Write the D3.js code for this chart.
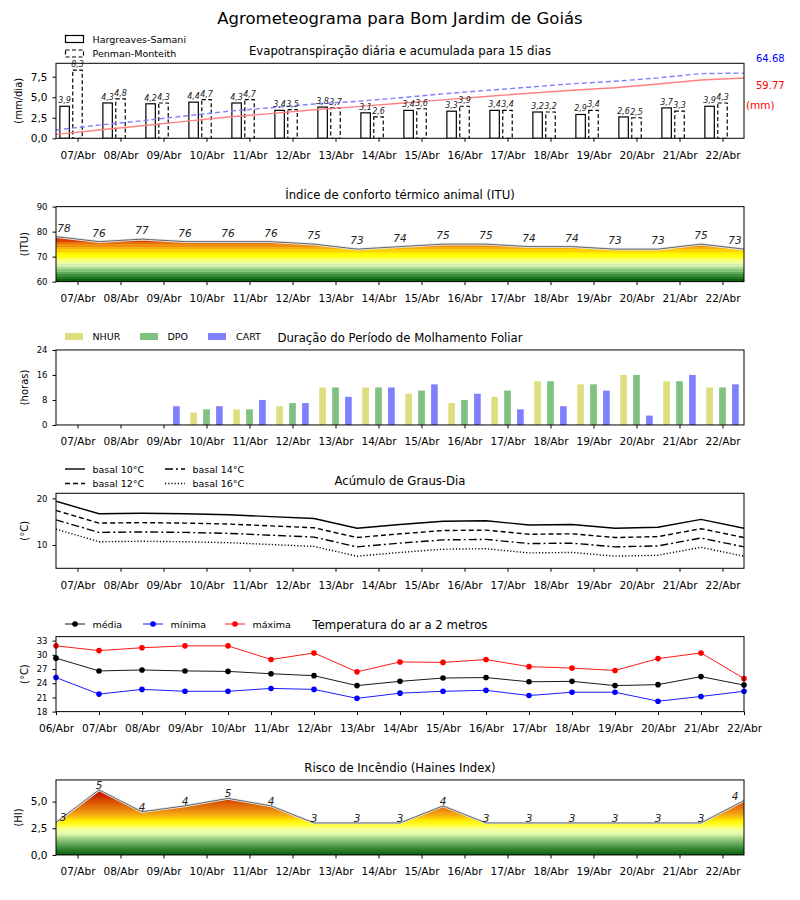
<!DOCTYPE html>
<html>
<head>
<meta charset="utf-8">
<script src="https://cdn.jsdelivr.net/npm/d3@7/dist/d3.min.js"></script>
<style>
  body { margin: 0; background: #fff; }
  svg { font-family: "DejaVu Sans", sans-serif; }
  .tick text { fill: #000; }
  .tick line { stroke: #000; }
  .val { font-style: italic; font-size: 8px; fill: #222; }
  .lbl { font-style: italic; font-size: 10.5px; fill: #222; }
</style>
</head>
<body>
<svg id="chart" width="800" height="900"></svg>
<script>
// ---- data ----
const days = ['07/Abr','08/Abr','09/Abr','10/Abr','11/Abr','12/Abr','13/Abr','14/Abr',
  '15/Abr','16/Abr','17/Abr','18/Abr','19/Abr','20/Abr','21/Abr','22/Abr']
const tempDays = ['06/Abr','07/Abr','08/Abr','09/Abr','10/Abr','11/Abr','12/Abr','13/Abr','14/Abr',
  '15/Abr','16/Abr','17/Abr','18/Abr','19/Abr','20/Abr','21/Abr','22/Abr']

// evapotranspiração diária (mm/dia)
const etHS = [3.9,4.3,4.2,4.4,4.3,3.4,3.8,3.1,3.4,3.3,3.4,3.2,2.9,2.6,3.7,3.9]
const etPM = [8.3,4.8,4.3,4.7,4.7,3.5,3.7,2.6,3.6,3.9,3.4,3.2,3.4,2.5,3.3,4.3]
// acumulada (mm)
const accHS = [3.9,8.2,12.4,16.8,21.1,24.5,28.3,31.4,34.8,38.1,41.5,44.7,47.6,50.2,53.9,57.8,59.77]
const accPM = [8.3,13.1,17.4,22.1,26.8,30.3,34.0,36.6,40.2,44.1,47.5,50.7,54.1,56.6,59.9,64.2,64.68]
const totHS = '59.77', totPM = '64.68'

// ITU
const itu = [78,76,77,76,76,76,75,73,74,75,75,74,74,73,73,75,73]

// molhamento foliar (horas)
const nhur = [0,0,0,4,5,6,12,12,10,7,9,14,13,16,14,12]
const dpo  = [0,0,0,5,5,7,12,12,11,8,11,14,13,16,14,12]
const cart = [0,0,6,6,8,7,9,12,13,10,5,6,11,3,16,13]

// graus-dia
const dd10 = [19.4,16.7,16.8,16.7,16.5,16.1,15.7,13.6,14.4,15.1,15.2,14.3,14.4,13.6,13.8,15.5,13.6]
const dd12 = [17.4,14.7,14.8,14.7,14.5,14.1,13.7,11.6,12.4,13.1,13.2,12.3,12.4,11.6,11.8,13.5,11.6]
const dd14 = [15.4,12.7,12.8,12.7,12.5,12.1,11.7,9.6,10.4,11.1,11.2,10.3,10.4,9.6,9.8,11.5,9.6]
const dd16 = [13.4,10.7,10.8,10.7,10.5,10.1,9.7,7.6,8.4,9.1,9.2,8.3,8.4,7.6,7.8,9.5,7.6]

// temperatura (°C)
const tMax  = [31.9,30.9,31.5,31.9,31.9,29.0,30.4,26.4,28.5,28.4,29.0,27.5,27.2,26.7,29.2,30.4,25.0]
const tMean = [29.3,26.6,26.8,26.6,26.5,26.0,25.6,23.5,24.4,25.1,25.2,24.3,24.4,23.5,23.7,25.4,23.6]
const tMin  = [25.2,21.7,22.7,22.3,22.3,22.9,22.7,20.8,21.9,22.3,22.5,21.4,22.1,22.1,20.2,21.2,22.3]

// Haines
const haines = [3.05,6.1,4.05,4.6,5.3,4.6,3.0,3.0,3.0,4.6,3.0,3.0,3.0,3.0,3.0,3.0,5.1]
const hainesLbl = [3,5,4,4,5,4,3,3,3,4,3,3,3,3,3,3,4]

// ---- layout ----
const left = 56, right = 744, ph = 75
const panelTop = i => 63.3 + 143.33 * i
const svg = d3.select('#chart')
const defs = svg.append('defs')
const x = d3.scaleLinear().domain([0, 16]).range([left, right])
const comma = f => v => d3.format(f)(v).replace('.', ',')

svg.append('text').attr('x', 400).attr('y', 24).attr('text-anchor', 'middle')
  .style('font-size', '16.5px').text('Agrometeograma para Bom Jardim de Goiás')

function panel(i, domain, ticks, fmt, ylabel, ylabX, title, tickFs, xTicks, xLabels) {
  const t = panelTop(i)
  const y = d3.scaleLinear().domain(domain).range([t + ph, t])
  const g = svg.append('g')
  defs.append('clipPath').attr('id', 'clip' + i)
    .append('rect').attr('x', left).attr('y', t).attr('width', right - left).attr('height', ph)

  g.append('text').attr('x', 400).attr('y', t - 8).attr('text-anchor', 'middle')
    .style('font-size', '11.7px').text(title)

  const ya = g.append('g').attr('transform', 'translate(' + left + ',0)')
    .call(d3.axisLeft(y).tickValues(ticks).tickFormat(fmt).tickSize(3.5).tickPadding(5))
  ya.select('.domain').remove()
  ya.selectAll('text').style('font-size', tickFs + 'px').attr('font-family', 'DejaVu Sans')

  const xa = g.append('g').attr('transform', 'translate(0,' + (t + ph) + ')')
    .call(d3.axisBottom(x).tickValues(xTicks).tickFormat((d, k) => xLabels[k]).tickSize(3.5).tickPadding(9.5))
  xa.select('.domain').remove()
  xa.selectAll('text').style('font-size', '10.5px').attr('font-family', 'DejaVu Sans')

  g.append('text').attr('transform', 'translate(' + ylabX + ',' + (t + ph / 2) + ') rotate(-90)')
    .attr('text-anchor', 'middle').attr('dominant-baseline', 'central')
    .style('font-size', '10px').text(ylabel)

  const body = g.append('g').attr('clip-path', 'url(#clip' + i + ')')
  return { g, body, y, t }
}

function frame(p) {
  p.g.append('rect').attr('x', left).attr('y', p.t).attr('width', right - left).attr('height', ph)
    .attr('fill', 'none').attr('stroke', '#000').attr('stroke-width', 1)
}

const midTicks = days.map((d, k) => k + 0.5)
const dayW = x(1) - x(0)

// ---- 1: evapotranspiração ----
const p1 = panel(0, [0, 9.13], [0, 2.5, 5, 7.5], comma('.1f'), '(mm/dia)', 18,
  'Evapotranspiração diária e acumulada para 15 dias', 10.5, midTicks, days)
const ySec = d3.scaleLinear().domain([0, 74.4]).range([p1.t + ph, p1.t])
const bw = 0.22 * dayW
p1.body.selectAll('.hs').data(etHS).enter().append('rect')
  .attr('x', (d, k) => x(k + 0.5 - 0.3) - bw / 2).attr('y', d => p1.y(d))
  .attr('width', bw).attr('height', d => p1.y(0) - p1.y(d))
  .attr('fill', '#fff').attr('stroke', '#000').attr('stroke-width', 1.2)
p1.body.selectAll('.pm').data(etPM).enter().append('rect')
  .attr('x', (d, k) => x(k + 0.5) - bw / 2).attr('y', d => p1.y(d))
  .attr('width', bw).attr('height', d => p1.y(0) - p1.y(d))
  .attr('fill', '#fff').attr('stroke', '#000').attr('stroke-width', 1.2).attr('stroke-dasharray', '4,2.5')
const lineK = yy => d3.line().x((d, k) => x(k)).y(d => yy(d))
p1.body.append('path').datum(accHS).attr('d', lineK(ySec))
  .attr('fill', 'none').attr('stroke', '#ff8080').attr('stroke-width', 1.4)
p1.body.append('path').datum(accPM).attr('d', lineK(ySec))
  .attr('fill', 'none').attr('stroke', '#8080ff').attr('stroke-width', 1.4).attr('stroke-dasharray', '5,3')
p1.g.selectAll('.vh').data(etHS).enter().append('text').attr('class', 'val')
  .attr('x', (d, k) => x(k + 0.5 - 0.3)).attr('y', d => p1.y(d) - 3)
  .attr('text-anchor', 'middle').text(d => comma('.1f')(d))
p1.g.selectAll('.vp').data(etPM).enter().append('text').attr('class', 'val')
  .attr('x', (d, k) => x(k + 0.5)).attr('y', d => p1.y(d) - 3)
  .attr('text-anchor', 'middle').text(d => comma('.1f')(d))
frame(p1)
svg.append('text').attr('x', 756).attr('y', 62).style('font-size', '10px').attr('fill', '#0000ff').text(totPM)
svg.append('text').attr('x', 756).attr('y', 89).style('font-size', '10px').attr('fill', '#ff0000').text(totHS)
svg.append('text').attr('x', 746).attr('y', 109).style('font-size', '10.5px').attr('fill', '#ff0000').text('(mm)')
// legenda
const lg1 = svg.append('g').style('font-size', '9.5px')
lg1.append('rect').attr('x', 65.5).attr('y', 35.5).attr('width', 18).attr('height', 7)
  .attr('fill', '#fff').attr('stroke', '#000').attr('stroke-width', 1.2)
lg1.append('text').attr('x', 92.5).attr('y', 42.5).text('Hargreaves-Samani')
lg1.append('rect').attr('x', 65.5).attr('y', 50).attr('width', 18).attr('height', 7)
  .attr('fill', '#fff').attr('stroke', '#000').attr('stroke-width', 1.2).attr('stroke-dasharray', '4,2.5')
lg1.append('text').attr('x', 92.5).attr('y', 57).text('Penman-Monteith')

// gradiente por faixa
function gradient(id, y, stops, stepped) {
  const gr = defs.append('linearGradient').attr('id', id).attr('gradientUnits', 'userSpaceOnUse')
    .attr('x1', 0).attr('x2', 0).attr('y1', y.range()[0]).attr('y2', y.range()[1])
  const d0 = y.domain()[0], d1 = y.domain()[1]
  const off = v => Math.max(0, Math.min(1, (v - d0) / (d1 - d0)))
  stops.forEach((s, k) => {
    if (stepped) {
      const hi = k < stops.length - 1 ? stops[k + 1][0] : d1
      gr.append('stop').attr('offset', off(s[0])).attr('stop-color', s[1])
      gr.append('stop').attr('offset', off(hi)).attr('stop-color', s[1])
    } else {
      gr.append('stop').attr('offset', off(s[0])).attr('stop-color', s[1])
    }
  })
}

function haloLine(p, data) {
  const ln = lineK(p.y)
  p.body.append('path').datum(data).attr('d', ln).attr('fill', 'none').attr('stroke', '#e8e8e8').attr('stroke-width', 2.6)
  p.body.append('path').datum(data).attr('d', ln).attr('fill', 'none').attr('stroke', '#666').attr('stroke-width', 1)
}

// ---- 2: ITU ----
const p2 = panel(1, [60, 90], [60, 70, 80, 90], d3.format('d'), '(ITU)', 24,
  'Índice de conforto térmico animal (ITU)', 8.5, midTicks, days)
gradient('gItu', p2.y, [
  [60, '#0b5e0b'], [61, '#217621'], [62, '#3b8c3b'], [63, '#5ea85a'], [64, '#86c47a'],
  [65, '#b0dc98'], [66, '#d4efaa'], [67, '#ecfca8'], [68, '#f6ff7a'], [69, '#fcff40'],
  [70, '#ffff00'], [71, '#ffee00'], [72, '#fdd000'], [73, '#f8b010'], [74, '#f09010'],
  [75, '#e87008'], [76, '#dd4000'], [77, '#d01000'], [78, '#c80000']], true)
p2.body.append('path').datum(itu)
  .attr('d', d3.area().x((d, k) => x(k)).y0(p2.y(60)).y1(d => p2.y(d)))
  .attr('fill', 'url(#gItu)')
haloLine(p2, itu)
p2.g.selectAll('.li').data(itu).enter().append('text').attr('class', 'lbl')
  .attr('x', (d, k) => k === 0 ? x(k) + 8 : k === 16 ? x(k) - 9 : x(k))
  .attr('y', d => p2.y(d) - 5).attr('text-anchor', 'middle').text(d => d)
frame(p2)

// ---- 3: molhamento ----
const p3 = panel(2, [0, 24], [0, 8, 16, 24], d3.format('d'), '(horas)', 24,
  'Duração do Período de Molhamento Foliar', 8.5, midTicks, days)
const wb = 0.155 * dayW
const wet = [[nhur, '#dede80', -0.3], [dpo, '#80c080', 0], [cart, '#8080ff', 0.3]]
wet.forEach(s => {
  p3.body.append('g').selectAll('rect').data(s[0]).enter().append('rect')
    .attr('x', (d, k) => x(k + 0.5 + s[2]) - wb / 2).attr('y', d => p3.y(d))
    .attr('width', wb).attr('height', d => p3.y(0) - p3.y(d)).attr('fill', s[1])
})
frame(p3)
const lg3 = svg.append('g').style('font-size', '9.5px')
;[['NHUR', '#dede80', 65, 92.5], ['DPO', '#80c080', 140, 167.5], ['CART', '#8080ff', 208, 236]].forEach(l => {
  lg3.append('rect').attr('x', l[2]).attr('y', 333).attr('width', 18).attr('height', 7).attr('fill', l[1])
  lg3.append('text').attr('x', l[3]).attr('y', 340).text(l[0])
})

// ---- 4: graus-dia ----
const p4 = panel(3, [5, 21.1], [10, 20], d3.format('d'), '(°C)', 24,
  'Acúmulo de Graus-Dia', 8.5, midTicks, days)
const ddSeries = [[dd10, null, 'basal 10°C'], [dd12, '5,3', 'basal 12°C'],
  [dd14, '8,3,2,3', 'basal 14°C'], [dd16, '1.2,2', 'basal 16°C']]
ddSeries.forEach(s => {
  p4.body.append('path').datum(s[0]).attr('d', lineK(p4.y)).attr('fill', 'none')
    .attr('stroke', '#000').attr('stroke-width', 1.4).attr('stroke-dasharray', s[1])
})
frame(p4)
const lg4 = svg.append('g').style('font-size', '9.5px')
ddSeries.forEach((s, k) => {
  const lx = k < 2 ? 65 : 165, ly = k % 2 === 0 ? 469 : 483.5
  lg4.append('line').attr('x1', lx).attr('x2', lx + 20).attr('y1', ly).attr('y2', ly)
    .attr('stroke', '#000').attr('stroke-width', 1.4).attr('stroke-dasharray', s[1])
  lg4.append('text').attr('x', lx + 27.5).attr('y', ly + 3.5).text(s[2])
})

// ---- 5: temperatura ----
const p5 = panel(4, [18, 33.85], [18, 21, 24, 27, 30, 33], d3.format('d'), '(°C)', 24,
  'Temperatura do ar a 2 metros', 8.5, tempDays.map((d, k) => k), tempDays)
const tSeries = [[tMean, '#000', 'média', 65], [tMin, '#0000ff', 'mínima', 143], [tMax, '#ff0000', 'máxima', 225]]
tSeries.forEach(s => {
  p5.g.append('path').datum(s[0]).attr('d', lineK(p5.y)).attr('fill', 'none')
    .attr('stroke', s[1]).attr('stroke-width', 0.9)
  p5.g.append('g').selectAll('circle').data(s[0]).enter().append('circle')
    .attr('cx', (d, k) => x(k)).attr('cy', d => p5.y(d)).attr('r', 2.8).attr('fill', s[1])
})
frame(p5)
const lg5 = svg.append('g').style('font-size', '9.5px')
tSeries.forEach(s => {
  lg5.append('line').attr('x1', s[3]).attr('x2', s[3] + 20).attr('y1', 624).attr('y2', 624)
    .attr('stroke', s[1]).attr('stroke-width', 0.9)
  lg5.append('circle').attr('cx', s[3] + 10).attr('cy', 624).attr('r', 2.8).attr('fill', s[1])
  lg5.append('text').attr('x', s[3] + 27.5).attr('y', 627.5).text(s[2])
})

// ---- 6: Haines ----
const p6 = panel(5, [0, 7.03], [0, 2.5, 5], comma('.1f'), '(HI)', 18,
  'Risco de Incêndio (Haines Index)', 10.5, midTicks, days)
gradient('gHi', p6.y, [
  [0, '#0b5e0b'], [0.7, '#3f8f3f'], [1.5, '#9bcf80'], [2.0, '#e6fcb0'], [2.4, '#f4ffa0'],
  [2.8, '#ffff30'], [3.2, '#fff000'], [3.7, '#f8b010'], [4.3, '#e88010'], [5.0, '#d85000'],
  [5.6, '#cc2000'], [6.1, '#c40000']], false)
p6.body.append('path').datum(haines)
  .attr('d', d3.area().x((d, k) => x(k)).y0(p6.y(0)).y1(d => p6.y(d)))
  .attr('fill', 'url(#gHi)')
haloLine(p6, haines)
p6.g.selectAll('.lh').data(haines).enter().append('text').attr('class', 'lbl')
  .attr('x', (d, k) => k === 0 ? x(k) + 7 : k === 16 ? x(k) - 9 : x(k))
  .attr('y', d => p6.y(d) - 1).attr('text-anchor', 'middle').text((d, k) => hainesLbl[k])
frame(p6)
</script>
</body>
</html>
